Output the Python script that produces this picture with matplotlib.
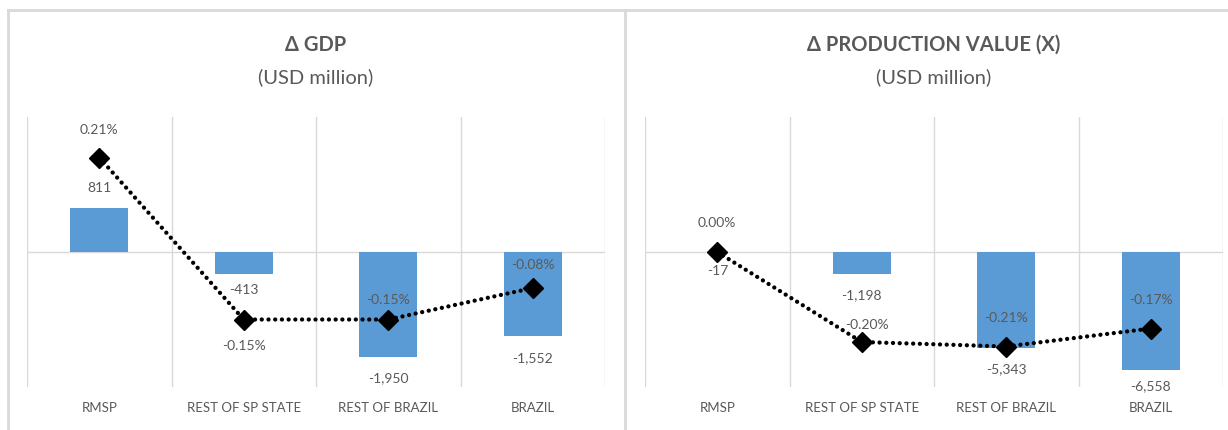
import numpy as np
import matplotlib.pyplot as plt
from matplotlib.lines import Line2D

plt.rcParams['font.family'] = ['Lato', 'DejaVu Sans']

regioes = ["RMSP", "REST OF SP STATE", "REST OF BRAZIL", "BRAZIL"]

# variacao absoluta (USD milhoes) e percentual
pib_abs = [811, -413, -1950, -1552]
pib_pct = [0.21, -0.15, -0.15, -0.08]
prod_abs = [-17, -1198, -5343, -6558]
prod_pct = [0.00, -0.20, -0.21, -0.17]

titulos = ["\u0394 GDP", "\u0394 PRODUCTION VALUE (X)"]
subtitulo = "(USD million)"

AZUL = "#5B9BD5"
CINZA_TXT = "#595959"
CINZA_GRADE = "#D9D9D9"

W, H = 1228, 430
fig = plt.figure(figsize=(W / 100, H / 100), dpi=100)


def px2pt(p):
    return p * 0.72


def painel(x0, valores, pct, lim_abs, titulo, off_barra, off_linha):
    ax = fig.add_axes([x0 / W, (H - 387) / H, 578 / W, 270 / H])
    ax2 = ax.twinx()
    x = np.arange(len(regioes))

    ax.bar(x, valores, width=0.40, color=AZUL, zorder=2)
    ax.set_xlim(-0.5, 3.5)
    ax.set_ylim(-lim_abs, lim_abs)
    for g in np.arange(-0.5, 4.0, 1.0):
        ax.axvline(g, color=CINZA_GRADE, lw=1, zorder=0)
    ax.axhline(0, color=CINZA_GRADE, lw=1, zorder=1)

    ax2.plot(x, pct, color="black", ls=(0, (0.01, 1.55)), lw=3.1,
             dash_capstyle="round", marker="D", markersize=10, zorder=3)
    ax2.set_ylim(-0.30, 0.30)

    for a in (ax, ax2):
        for s in a.spines.values():
            s.set_visible(False)
        a.set_yticks([])
    ax.set_xticks(x)
    ax.set_xticklabels(regioes, fontsize=9.5, color=CINZA_TXT)
    ax.tick_params(axis="x", length=0, pad=px2pt(15))

    for i, v in enumerate(valores):
        ax.annotate(f"{v:,}", (x[i], v), xytext=(off_barra[i][0], px2pt(off_barra[i][1])),
                    textcoords="offset points", ha="center", va="center",
                    fontsize=10, color=CINZA_TXT, zorder=4)
    for i, p in enumerate(pct):
        ax2.annotate(f"{p:.2f}%", (x[i], p), xytext=(off_linha[i][0], px2pt(off_linha[i][1])),
                     textcoords="offset points", ha="center", va="center",
                     fontsize=10, color=CINZA_TXT, zorder=4)

    cx = (x0 + 289) / W
    fig.text(cx, 1 - 45 / H, titulo, ha="center", va="center",
             fontsize=14.5, fontweight="bold", color=CINZA_TXT)
    fig.text(cx, 1 - 77 / H, subtitulo, ha="center", va="center",
             fontsize=14.5, color=CINZA_TXT)


painel(27, pib_abs, pib_pct, 2500, titulos[0],
       off_barra=[(0, 20), (0, -16), (0, -21), (0, -22)],
       off_linha=[(0, 27), (0, -26), (0, 19), (0, 23)])
painel(645, prod_abs, prod_pct, 7500, titulos[1],
       off_barra=[(0, -19), (0, -22), (0, -21), (0, -16)],
       off_linha=[(0, 29), (4, 17), (0, 28), (0, 28)])

# molduras dos graficos
for xs, ys in [((8 / W, 1), (1 - 10 / H, 1 - 10 / H)),
               ((8 / W, 8 / W), (0, 1 - 10 / H)),
               ((625 / W, 625 / W), (0, 1 - 10 / H))]:
    fig.add_artist(Line2D(xs, ys, color=CINZA_GRADE, lw=2))

fig.savefig("out.png", dpi=100)
